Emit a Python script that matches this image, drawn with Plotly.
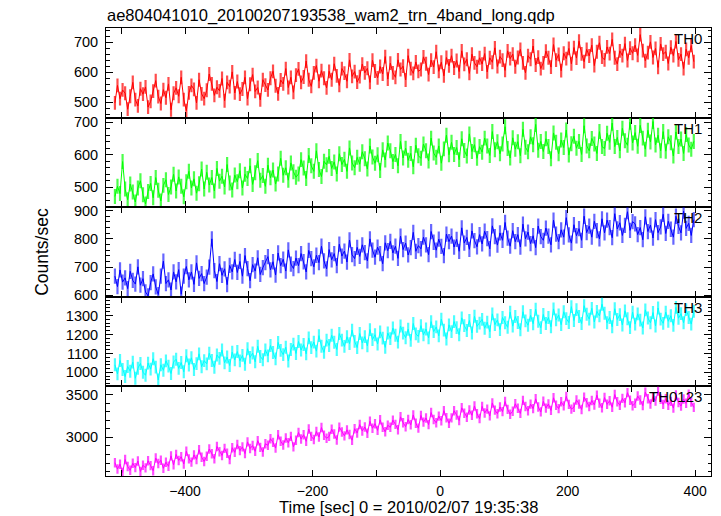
import plotly.graph_objects as go
from plotly.subplots import make_subplots

TITLE = "ae804041010_20100207193538_wam2_trn_4band_long.qdp"
X_LABEL = "Time [sec] 0 = 2010/02/07 19:35:38"
Y_LABEL = "Counts/sec"
BAND_NAMES = ["TH0", "TH1", "TH2", "TH3", "TH0123"]

# 4-second bins starting at -510 s
TIME_START = -510
TIME_STEP = 4

TH0 = [
    498, 556, 512, 541, 530, 477, 520, 566, 509, 488, 545, 527,
    551, 484, 503, 537, 572, 519, 496, 542, 515, 561, 475, 530,
    548, 520, 583, 509, 472, 531, 556, 543, 498, 575, 528, 512,
    540, 594, 561, 523, 550, 538, 579, 505, 566, 552, 601, 531,
    569, 527, 544, 583, 512, 560, 592, 536, 549, 508, 575, 557,
    541, 580, 603, 555, 528, 574, 561, 612, 549, 583, 533, 590,
    611, 566, 584, 637, 575, 553, 598, 622, 570, 605, 580, 548,
    603, 575, 628, 588, 556, 612, 597, 570, 641, 586, 602, 567,
    585, 627, 598, 613, 566, 640, 604, 581, 619, 594, 652, 577,
    630, 598, 583, 641, 609, 620, 574, 655, 612, 596, 634, 603,
    609, 651, 628, 592, 640, 617, 668, 603, 633, 588, 649, 621,
    655, 614, 639, 602, 671, 626, 643, 596, 660, 631, 618, 648,
    627, 662, 601, 648, 633, 681, 619, 652, 640, 606, 671, 645,
    660, 618, 649, 676, 631, 598, 655, 643, 687, 624, 650, 612,
    631, 670, 648, 617, 692, 640, 659, 605, 663, 645, 679, 628,
    682, 647, 703, 661, 635, 676, 654, 690, 622, 668, 698, 650,
    641, 684, 662, 709, 648, 627, 671, 655, 695, 639, 680, 663,
    690, 656, 725, 672, 638, 665, 701, 649, 679, 616, 694, 660,
    668, 629, 683, 655, 702, 641, 660, 612, 676, 648, 689, 635,
]

TH1 = [
    472, 503, 481, 579, 495, 462, 510, 486, 455, 498, 520, 477,
    449, 487, 512, 468, 530, 491, 458, 506, 523, 478, 501, 540,
    489, 532, 503, 471, 517, 549, 498, 526, 482, 511, 556, 495,
    546, 507, 530, 489, 558, 519, 534, 501, 570, 513, 492, 538,
    517, 551, 498, 540, 527, 566, 509, 545, 582, 522, 536, 503,
    568, 529, 553, 510, 541, 589, 537, 560, 522, 575, 548, 531,
    541, 585, 559, 527, 598, 566, 549, 612, 555, 533, 580, 569,
    595, 558, 578, 541, 603, 570, 586, 549, 621, 575, 560, 592,
    571, 609, 588, 556, 627, 593, 574, 600, 552, 615, 584, 636,
    612, 579, 601, 566, 641, 590, 620, 583, 604, 563, 629, 597,
    589, 633, 612, 581, 651, 605, 592, 627, 574, 618, 660, 600,
    638, 601, 622, 585, 649, 613, 596, 664, 610, 631, 589, 625,
    608, 651, 627, 598, 671, 615, 640, 603, 633, 686, 619, 590,
    652, 617, 640, 597, 678, 623, 609, 655, 631, 693, 614, 641,
    610, 649, 625, 588, 667, 638, 603, 645, 622, 676, 599, 634,
    657, 620, 641, 601, 689, 627, 612, 650, 633, 604, 671, 625,
    619, 666, 638, 697, 625, 653, 612, 681, 643, 629, 700, 636,
    668, 626, 690, 651, 617, 675, 639, 702, 630, 660, 612, 671,
    611, 655, 637, 596, 670, 625, 648, 604, 662, 630, 617, 641,
]

TH2 = [
    668, 631, 690, 647, 662, 624, 685, 653, 640, 701, 636, 659,
    612, 598, 645, 676, 630, 603, 668, 721, 642, 655, 619, 683,
    648, 691, 604, 668, 702, 655, 683, 639, 715, 660, 677, 642,
    665, 700, 800, 688, 649, 712, 671, 694, 638, 706, 683, 727,
    681, 720, 668, 741, 695, 652, 709, 686, 733, 674, 698, 716,
    737, 690, 719, 672, 750, 705, 728, 686, 761, 711, 695, 732,
    705, 748, 719, 683, 759, 730, 701, 742, 716, 774, 722, 694,
    762, 726, 748, 705, 781, 739, 757, 718, 796, 744, 730, 770,
    738, 779, 751, 722, 800, 760, 735, 771, 748, 712, 786, 758,
    791, 750, 774, 731, 810, 762, 785, 743, 769, 823, 756, 776,
    765, 806, 779, 744, 826, 788, 760, 799, 773, 741, 817, 790,
    810, 771, 798, 756, 839, 785, 805, 763, 828, 794, 772, 815,
    782, 827, 801, 765, 846, 808, 778, 821, 795, 858, 803, 774,
    829, 790, 815, 771, 852, 800, 824, 783, 811, 769, 845, 808,
    795, 838, 810, 779, 866, 817, 790, 832, 806, 875, 814, 785,
    850, 811, 836, 795, 880, 822, 845, 806, 862, 829, 800, 871,
    821, 866, 840, 804, 889, 835, 857, 812, 848, 896, 830, 861,
    853, 815, 840, 797, 878, 826, 849, 803, 868, 822, 842, 887,
    819, 862, 834, 806, 880, 844, 821, 898, 837, 855, 812, 868,
]

TH3 = [
    1040, 992, 1063, 1015, 978, 1031, 1006, 1054, 969, 1022, 1047, 1001,
    985, 1049, 1017, 1072, 1028, 960, 1040, 1011, 1061, 1033, 994, 1055,
    1069, 1021, 1052, 1003, 1088, 1039, 1077, 1015, 1046, 1098, 1030, 1062,
    1045, 1101, 1063, 1027, 1092, 1074, 1118, 1050, 1081, 1036, 1107, 1066,
    1110, 1061, 1090, 1043, 1125, 1079, 1102, 1056, 1138, 1084, 1067, 1119,
    1087, 1142, 1105, 1071, 1158, 1116, 1094, 1133, 1060, 1121, 1149, 1100,
    1163, 1118, 1147, 1098, 1182, 1131, 1160, 1112, 1194, 1138, 1106, 1170,
    1142, 1196, 1159, 1121, 1205, 1170, 1137, 1188, 1152, 1223, 1164, 1131,
    1205, 1156, 1189, 1140, 1226, 1173, 1199, 1150, 1214, 1181, 1132, 1208,
    1178, 1234, 1196, 1160, 1245, 1207, 1183, 1228, 1169, 1258, 1203, 1190,
    1247, 1198, 1229, 1182, 1268, 1215, 1240, 1193, 1281, 1223, 1176, 1251,
    1215, 1268, 1236, 1199, 1288, 1247, 1221, 1274, 1208, 1296, 1243, 1260,
    1280, 1233, 1265, 1215, 1309, 1252, 1277, 1226, 1290, 1262, 1238, 1318,
    1244, 1295, 1263, 1225, 1320, 1272, 1249, 1301, 1257, 1333, 1270, 1236,
    1306, 1258, 1290, 1241, 1335, 1277, 1303, 1252, 1320, 1284, 1263, 1347,
    1274, 1331, 1295, 1258, 1352, 1307, 1281, 1338, 1266, 1322, 1298, 1360,
    1312, 1262, 1290, 1241, 1336, 1279, 1305, 1250, 1325, 1283, 1236, 1318,
    1255, 1309, 1276, 1234, 1330, 1287, 1262, 1316, 1245, 1340, 1281, 1259,
    1318, 1270, 1299, 1248, 1343, 1286, 1310, 1262, 1331, 1290, 1255, 1322,
]

TH0123 = [
    2705, 2631, 2688, 2590, 2742, 2660, 2617, 2699, 2648, 2725, 2603, 2676,
    2645, 2728, 2671, 2612, 2760, 2695, 2734, 2640, 2711, 2663, 2785, 2680,
    2802, 2731, 2775, 2690, 2838, 2750, 2712, 2796, 2743, 2857, 2768, 2720,
    2781, 2865, 2810, 2752, 2893, 2833, 2790, 2872, 2815, 2741, 2880, 2826,
    2917, 2846, 2890, 2812, 2948, 2871, 2905, 2838, 2962, 2884, 2830, 2926,
    2908, 2985, 2942, 2876, 3031, 2955, 2911, 2994, 2937, 3012, 2890, 2968,
    3058, 2982, 3031, 2955, 3098, 3012, 2976, 3069, 3005, 3115, 3025, 2990,
    3012, 3096, 3040, 2970, 3120, 3063, 3018, 3088, 3035, 2968, 3102, 3052,
    3150, 3075, 3122, 3048, 3188, 3107, 3160, 3082, 3205, 3118, 3066, 3142,
    3118, 3201, 3152, 3090, 3240, 3171, 3125, 3209, 3147, 3262, 3166, 3108,
    3256, 3178, 3227, 3149, 3290, 3210, 3170, 3248, 3195, 3312, 3230, 3166,
    3228, 3311, 3262, 3197, 3345, 3281, 3236, 3320, 3258, 3367, 3275, 3220,
    3362, 3285, 3330, 3251, 3402, 3318, 3276, 3355, 3301, 3418, 3327, 3270,
    3306, 3392, 3341, 3280, 3432, 3360, 3311, 3388, 3336, 3450, 3355, 3298,
    3421, 3342, 3390, 3315, 3462, 3375, 3336, 3415, 3368, 3478, 3385, 3330,
    3352, 3437, 3388, 3326, 3470, 3405, 3360, 3431, 3379, 3492, 3400, 3345,
    3465, 3386, 3428, 3352, 3500, 3416, 3375, 3455, 3405, 3522, 3433, 3370,
    3398, 3482, 3437, 3371, 3528, 3450, 3390, 3475, 3425, 3540, 3446, 3385,
    3452, 3375, 3420, 3342, 3495, 3408, 3366, 3448, 3398, 3505, 3412, 3350,
]

ERRORS = [23, 23, 27, 34, 55]

SERIES = [TH0, TH1, TH2, TH3, TH0123]
COLORS = ["#ff0000", "#00ff00", "#0000ff", "#00ffff", "#ff00ff"]
ERR_COLORS = ["rgba(255,0,0,0.7)", "rgba(0,255,0,0.7)", "rgba(0,0,255,0.6)",
              "rgba(0,255,255,0.7)", "rgba(255,0,255,0.7)"]
Y_RANGES = [[449, 747], [439, 714], [595, 912], [926, 1399], [2550, 3595]]
Y_DTICK = [100, 100, 100, 100, 500]
Y_MINOR = [20, 20, 20, 20, 100]
X_RANGE = [-524, 425]

FONT = "Liberation Sans, Arial, Helvetica, sans-serif"

fig = make_subplots(rows=5, cols=1, shared_xaxes=True, vertical_spacing=0)

for i, vals in enumerate(SERIES):
    times = [TIME_START + TIME_STEP * k for k in range(len(vals))]
    fig.add_trace(
        go.Scatter(
            x=times, y=vals, mode="lines",
            line=dict(color=COLORS[i], width=1),
            error_y=dict(type="constant", value=ERRORS[i], color=ERR_COLORS[i],
                         thickness=2.2, width=0),
            showlegend=False, hoverinfo="skip",
        ),
        row=i + 1, col=1,
    )
    fig.update_yaxes(
        range=Y_RANGES[i], dtick=Y_DTICK[i], tick0=0,
        ticks="inside", ticklen=7, tickwidth=1, tickcolor="black",
        showline=True, linecolor="black", linewidth=1, mirror="allticks",
        showgrid=False, zeroline=False,
        minor=dict(dtick=Y_MINOR[i], ticks="inside", ticklen=3.5,
                   tickcolor="black", showgrid=False),
        tickfont=dict(family=FONT, size=14.5, color="black"),
        ticklabelstandoff=4,
        row=i + 1, col=1,
    )
    fig.update_xaxes(
        range=X_RANGE, dtick=200, tick0=0,
        ticks="inside", ticklen=6, tickwidth=1, tickcolor="black",
        showline=True, linecolor="black", linewidth=1, mirror="allticks",
        showgrid=False, zeroline=False,
        minor=dict(dtick=100, ticks="inside", ticklen=6,
                   tickcolor="black", showgrid=False),
        tickfont=dict(family=FONT, size=14, color="black"),
        ticklabelstandoff=2,
        row=i + 1, col=1,
    )

annotations = []
for i, name in enumerate(BAND_NAMES):
    top = 1.0 - 0.2 * i
    annotations.append(dict(
        text=name, xref="paper", yref="paper", x=0.988, y=top,
        xanchor="right", yanchor="top", showarrow=False,
        font=dict(family=FONT, size=15, color="black"),
    ))
annotations.append(dict(
    text=X_LABEL, xref="paper", yref="paper", x=0.5, y=0, yshift=-31,
    xanchor="center", yanchor="middle", showarrow=False,
    font=dict(family=FONT, size=16.5, color="black"),
))
annotations.append(dict(
    text=Y_LABEL, xref="paper", yref="paper", x=-0.106, y=0.5,
    xanchor="center", yanchor="middle", textangle=-90, showarrow=False,
    font=dict(family=FONT, size=17.5, color="black"),
))

fig.update_layout(
    width=721, height=516,
    margin=dict(l=106, r=10, t=28, b=40),
    paper_bgcolor="white", plot_bgcolor="white",
    title=dict(text=TITLE, x=107 / 721, xanchor="left", y=1 - 15 / 516,
               yanchor="middle", font=dict(family=FONT, size=16.5, color="black")),
    annotations=annotations,
    showlegend=False,
)

fig.write_html("out.html", config={"displayModeBar": False},
               post_script="document.body.style.margin='0px';")
